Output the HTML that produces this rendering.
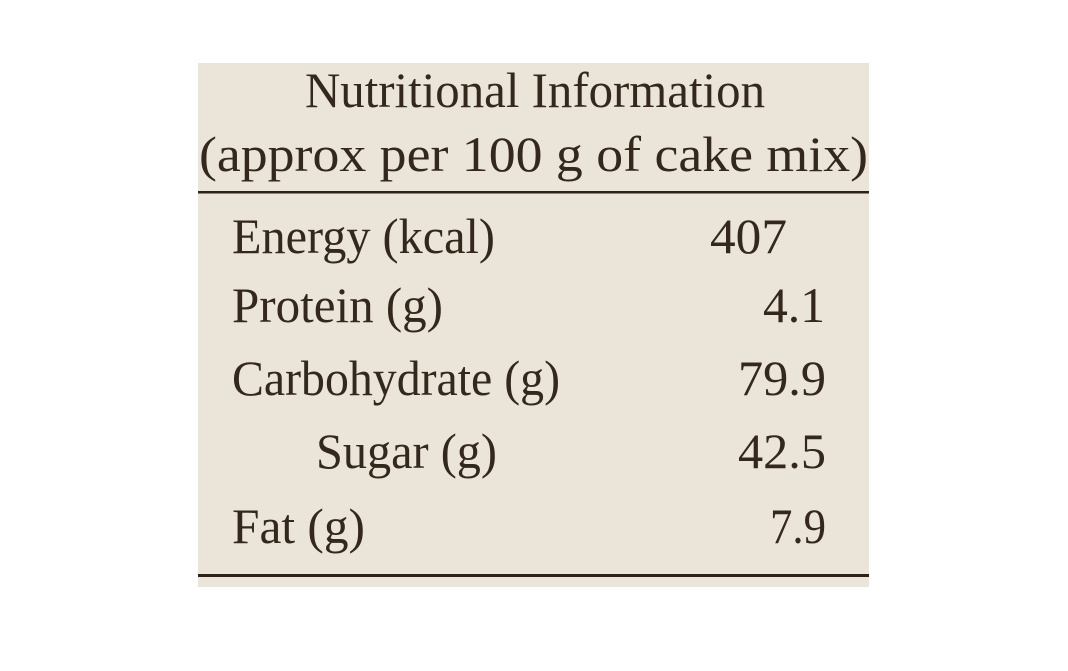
<!DOCTYPE html>
<html><head><meta charset="utf-8"><style>
html,body{margin:0;padding:0;background:#fff;}
svg{display:block;}
text{font-family:"Liberation Serif",serif;fill:#34281c;font-size:50px;}
</style></head><body>
<svg width="1068" height="671" viewBox="0 0 1068 671">
<rect x="0" y="0" width="1068" height="671" fill="#ffffff"/>
<rect x="198" y="63" width="671" height="524" fill="#ebe5d9"/>
<rect x="198" y="191" width="671" height="2.5" fill="#2e2218"/>
<rect x="198" y="574" width="671" height="3" fill="#2e2218"/>
<text x="305" y="107" textLength="460" lengthAdjust="spacingAndGlyphs">Nutritional Information</text>
<text x="199" y="171" textLength="669" lengthAdjust="spacingAndGlyphs">(approx per 100 g of cake mix)</text>
<text x="232" y="253" textLength="263" lengthAdjust="spacingAndGlyphs">Energy (kcal)</text>
<text x="710" y="253" textLength="77" lengthAdjust="spacingAndGlyphs">407</text>
<text x="232" y="322" textLength="211" lengthAdjust="spacingAndGlyphs">Protein (g)</text>
<text x="763" y="322" textLength="62" lengthAdjust="spacingAndGlyphs">4.1</text>
<text x="232" y="395" textLength="328" lengthAdjust="spacingAndGlyphs">Carbohydrate (g)</text>
<text x="738" y="395" textLength="88" lengthAdjust="spacingAndGlyphs">79.9</text>
<text x="316" y="468" textLength="181" lengthAdjust="spacingAndGlyphs">Sugar (g)</text>
<text x="738" y="468" textLength="88" lengthAdjust="spacingAndGlyphs">42.5</text>
<text x="232" y="543" textLength="133" lengthAdjust="spacingAndGlyphs">Fat (g)</text>
<text x="770" y="543" textLength="56" lengthAdjust="spacingAndGlyphs">7.9</text>
</svg>
</body></html>
